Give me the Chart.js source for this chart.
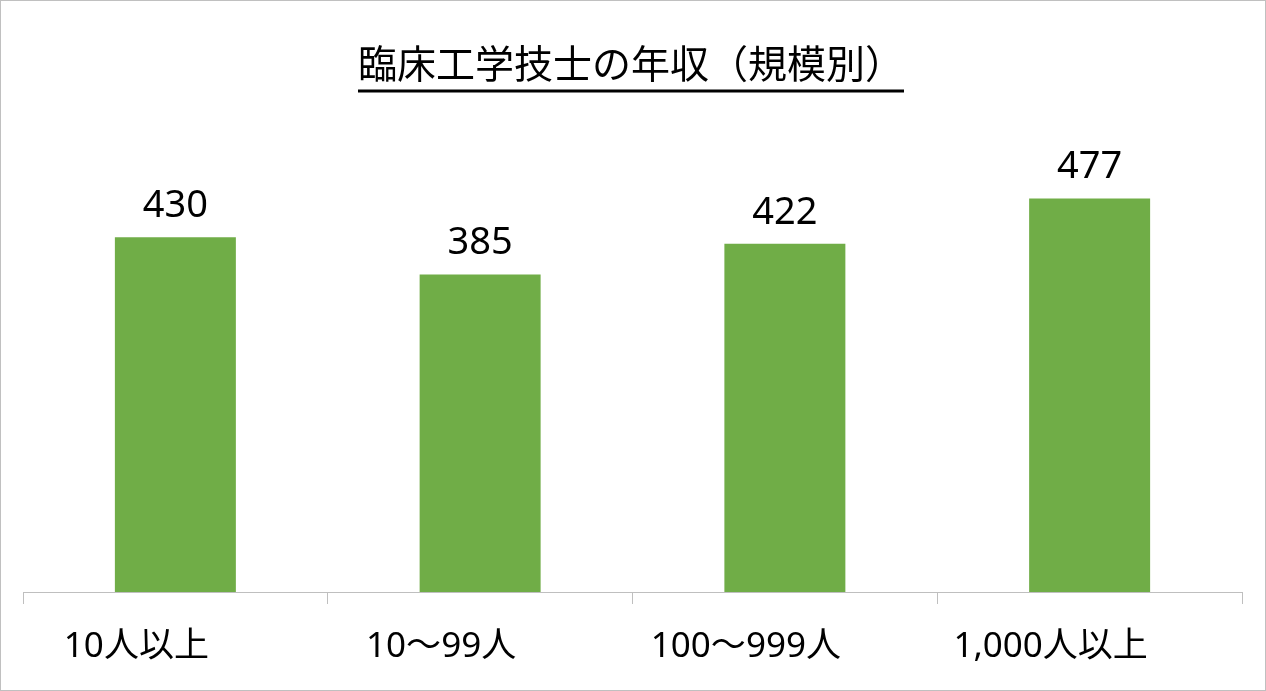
<!DOCTYPE html>
<html>
<head>
<meta charset="utf-8">
<script src="https://cdn.jsdelivr.net/npm/chart.js@4"></script>
<style>
  html, body { margin: 0; padding: 0; background: #fff; }
  #wrap {
    position: relative;
    width: 1266px;
    height: 691px;
    box-sizing: border-box;
    border: 1px solid #c0c0c0;
  }
  #wrap canvas { display: block; }
</style>
</head>
<body>
<div id="wrap"><canvas id="bar-chart"></canvas></div>
<script>
const chartTitle = "臨床工学技士の年収（規模別）";
const categories = ["10人以上", "10〜99人", "100〜999人", "1,000人以上"];
const salaries = [430, 385, 422, 477];

const fontFamily = "'Noto Sans', 'Noto Sans CJK JP', sans-serif";

// draws the underlined title and the value above each bar
const labelsPlugin = {
  id: "labels",
  afterDatasetsDraw(chart) {
    const ctx = chart.ctx;
    ctx.save();
    ctx.fillStyle = "#000";

    // title
    ctx.font = "39px 'Noto Sans CJK JP', sans-serif";
    ctx.textAlign = "center";
    ctx.textBaseline = "middle";
    const cx = chart.width / 2 - 2;
    ctx.fillText(chartTitle, cx, 62);
    const w = ctx.measureText(chartTitle).width;
    ctx.fillRect(cx - w / 2, 88.5, w, 3);

    // values
    ctx.font = "38px " + fontFamily;
    ctx.textBaseline = "alphabetic";
    chart.getDatasetMeta(0).data.forEach((bar, i) => {
      ctx.fillText(String(salaries[i]), bar.x, bar.y - 20);
    });
    ctx.restore();
  },
};

const barChart = document.querySelector("#bar-chart").getContext("2d");

new Chart(barChart, {
  type: "bar",
  data: {
    labels: categories,
    datasets: [
      {
        data: salaries,
        backgroundColor: "#70AD47",
        borderWidth: 0,
        barPercentage: 0.397,
        categoryPercentage: 1,
      },
    ],
  },
  options: {
    responsive: true,
    maintainAspectRatio: false,
    animation: false,
    layout: { padding: { top: 96, left: 22, right: 23, bottom: 0 } },
    plugins: {
      legend: { display: false },
      tooltip: { enabled: false },
      title: { display: false },
    },
    scales: {
      x: {
        grid: {
          display: true,
          drawOnChartArea: false,
          drawTicks: true,
          tickLength: 12,
          color: "#bfbfbf",
        },
        border: { display: true, color: "#bfbfbf", width: 1 },
        ticks: {
          color: "#000",
          padding: 22,
          labelOffset: -39,
          font: { size: 35, family: fontFamily },
          maxRotation: 0,
        },
      },
      y: {
        display: false,
        min: 0,
        max: 600,
      },
    },
  },
  plugins: [labelsPlugin],
});
</script>
</body>
</html>
